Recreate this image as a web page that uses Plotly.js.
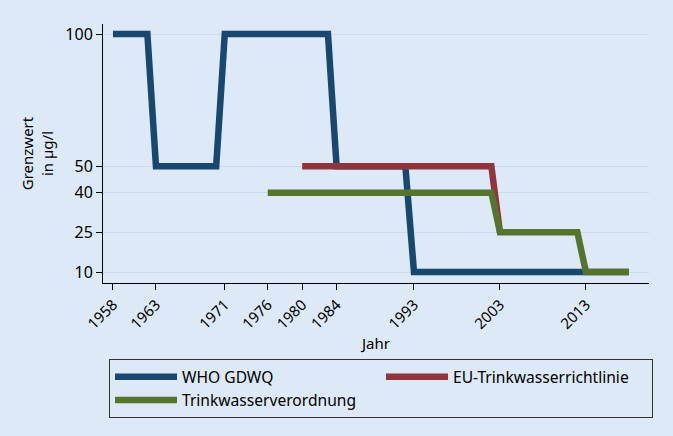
<!DOCTYPE html>
<html>
<head>
<meta charset="utf-8">
<script src="https://cdn.plot.ly/plotly-3.0.1.min.js"></script>
<style>html,body{margin:0;padding:0;background:#dde9f6;}#chart{width:673px;height:436px;}</style>
</head>
<body>
<div id="chart"></div>
<script>
// WHO GDWQ
var whoYears = [1958, 1962, 1963, 1970, 1971, 1983, 1984, 1992, 1993, 2018];
var whoValues = [100, 100, 50, 50, 100, 100, 50, 50, 10, 10];
// EU-Trinkwasserrichtlinie
var euYears = [1980, 2002, 2003];
var euValues = [50, 50, 25];
// Trinkwasserverordnung
var tvYears = [1976, 2002, 2003, 2012, 2013, 2018];
var tvValues = [40, 40, 25, 25, 10, 10];

var xTicks = [1958, 1963, 1971, 1976, 1980, 1984, 1993, 2003, 2013];
var yTicks = [10, 25, 40, 50, 100];

var seriesNames = ['WHO GDWQ', 'EU-Trinkwasserrichtlinie', 'Trinkwasserverordnung'];
var colors = ['#1a476f', '#90353b', '#55752f'];

var FONT = 'Noto Sans, DejaVu Sans, sans-serif';

function tr(x, y, i) {
  return {
    x: x, y: y, type: 'scatter', mode: 'lines', name: seriesNames[i],
    line: {color: colors[i], width: 6.5},
    hoverinfo: 'skip'
  };
}

var data = [tr(whoYears, whoValues, 0), tr(euYears, euValues, 1), tr(tvYears, tvValues, 2)];

var layout = {
  width: 673, height: 436,
  paper_bgcolor: '#dde9f6', plot_bgcolor: '#dde9f6',
  margin: {l: 103, r: 24, t: 24, b: 153},
  font: {family: FONT, size: 15, color: '#000'},
  showlegend: true,
  xaxis: {
    range: [1956.84, 2020.33],
    tickvals: xTicks, ticktext: xTicks.map(String),
    tickangle: -45, ticks: 'outside', ticklen: 6, tickcolor: '#000',
    showline: true, linecolor: '#000', linewidth: 1,
    showgrid: false, zeroline: false,
    tickfont: {family: FONT, size: 15},
    title: {text: 'Jahr', font: {family: FONT, size: 15}, standoff: 0}
  },
  yaxis: {
    range: [5.84, 103.78],
    tickvals: yTicks, ticktext: yTicks.map(String),
    ticks: 'outside', ticklen: 6, tickcolor: '#000',
    showline: true, linecolor: '#000', linewidth: 1,
    showgrid: true, gridcolor: '#c9dbea', gridwidth: 1,
    zeroline: false,
    tickfont: {family: FONT, size: 16},
    title: {text: 'Grenzwert<br>in µg/l', font: {family: FONT, size: 15}, standoff: 8}
  },
  legend: {
    orientation: 'h',
    xref: 'container', yref: 'container',
    x: 109 / 673, xanchor: 'left', y: 1 - 359 / 436, yanchor: 'top',
    bgcolor: '#dde9f6', bordercolor: '#333', borderwidth: 1,
    entrywidth: 194, entrywidthmode: 'pixels',
    itemwidth: 62,
    traceorder: 'normal',
    font: {family: FONT, size: 15.6}
  }
};

Plotly.newPlot('chart', data, layout, {displayModeBar: false, staticPlot: true});
</script>
</body>
</html>
